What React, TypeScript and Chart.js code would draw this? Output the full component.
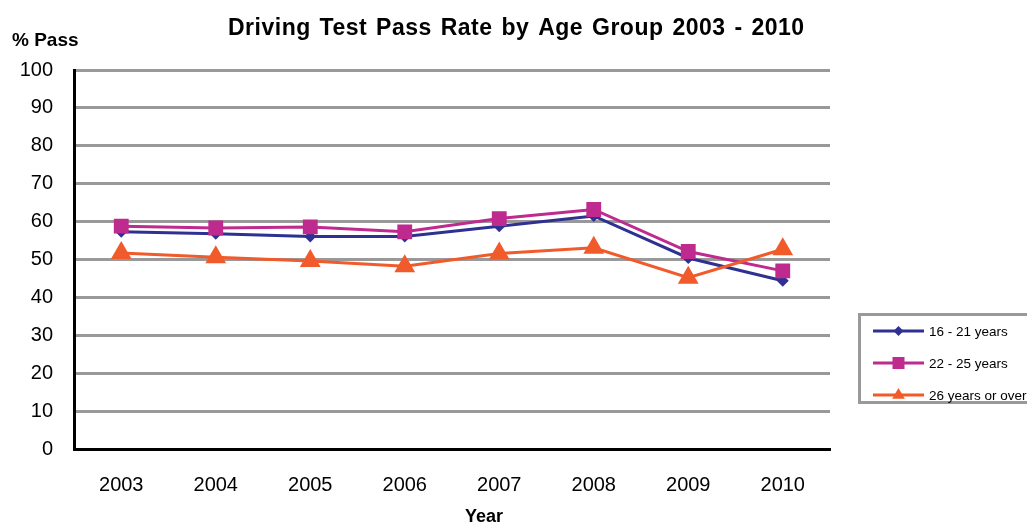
import React, { useEffect, useRef } from 'react';
import { Chart, registerables } from 'chart.js';

Chart.register(...registerables);

const years = ['2003', '2004', '2005', '2006', '2007', '2008', '2009', '2010'];
const age16to21 = [57.3, 56.8, 56.1, 56.1, 58.8, 61.5, 50.4, 44.4];
const age22to25 = [58.8, 58.3, 58.6, 57.3, 60.8, 63.2, 52.1, 47.0];
const age26plus = [51.7, 50.6, 49.6, 48.2, 51.6, 53.1, 45.2, 52.7];
const seriesNames = ['16 - 21 years', '22 - 25 years', '26 years or over'];
const seriesColors = ['#2E3192', '#BE2A8E', '#F15A2B'];

const chartTitle = 'Driving Test Pass Rate by Age Group 2003 - 2010';
const yAxisTitle = '% Pass';
const xAxisTitle = 'Year';

const FONT = '"Liberation Sans", Arial, sans-serif';

function drawMarker(ctx: CanvasRenderingContext2D, style: string, x: number, y: number, r: number, color: string) {
  ctx.save();
  ctx.fillStyle = color;
  ctx.beginPath();
  if (style === 'rectRot') {
    ctx.moveTo(x - r, y);
    ctx.lineTo(x, y - r);
    ctx.lineTo(x + r, y);
    ctx.lineTo(x, y + r);
  } else if (style === 'rect') {
    ctx.rect(x - r, y - r, 2 * r, 2 * r);
  } else {
    ctx.moveTo(x, y - r);
    ctx.lineTo(x + r * 0.9, y + r * 0.55);
    ctx.lineTo(x - r * 0.9, y + r * 0.55);
  }
  ctx.closePath();
  ctx.fill();
  ctx.restore();
}

const extrasPlugin = {
  id: 'extras',
  afterDraw(chart: any) {
    const ctx: any = chart.ctx;
    ctx.save();
    ctx.fillStyle = '#000';
    ctx.textBaseline = 'alphabetic';
    ctx.font = `bold 23px ${FONT}`;
    ctx.textAlign = 'left';
    ctx.letterSpacing = '0.5px';
    ctx.wordSpacing = '2px';
    ctx.fillText(chartTitle, 228, 35);
    ctx.letterSpacing = '0px';
    ctx.wordSpacing = '0px';
    ctx.font = `bold 19px ${FONT}`;
    ctx.fillText(yAxisTitle, 12, 46);
    ctx.font = `bold 18px ${FONT}`;
    ctx.textAlign = 'center';
    ctx.fillText(xAxisTitle, 484, 522);

    // legend
    ctx.strokeStyle = '#999999';
    ctx.lineWidth = 3;
    ctx.strokeRect(859.5, 314.5, 200, 88);
    const rowsY = [331, 363, 395];
    const markerSizes = [5, 6, 7];
    chart.data.datasets.forEach((ds: any, i: number) => {
      const y = rowsY[i];
      ctx.strokeStyle = ds.borderColor;
      ctx.lineWidth = 3;
      ctx.beginPath();
      ctx.moveTo(873, y);
      ctx.lineTo(924, y);
      ctx.stroke();
      drawMarker(ctx, ds.pointStyle, 898.5, y, markerSizes[i], ds.borderColor);
      ctx.fillStyle = '#000';
      ctx.font = `13.5px ${FONT}`;
      ctx.textAlign = 'left';
      ctx.textBaseline = 'middle';
      ctx.fillText(ds.label, 929, y + 1);
    });
    ctx.restore();
  },
};

export default function App() {
  const canvasRef = useRef<HTMLCanvasElement | null>(null);

  useEffect(() => {
    const canvas = canvasRef.current;
    if (!canvas) return;
    const chart = new Chart(canvas, {
      type: 'line',
      data: {
        labels: years,
        datasets: [
          {
            label: seriesNames[0],
            data: age16to21,
            borderColor: seriesColors[0],
            backgroundColor: seriesColors[0],
            borderWidth: 3,
            pointStyle: 'rectRot',
            pointRadius: 6,
            pointBorderWidth: 0,
            tension: 0,
            order: 3,
          },
          {
            label: seriesNames[1],
            data: age22to25,
            borderColor: seriesColors[1],
            backgroundColor: seriesColors[1],
            borderWidth: 3,
            pointStyle: 'rect',
            pointRadius: 10.5,
            pointBorderWidth: 0,
            tension: 0,
            order: 2,
          },
          {
            label: seriesNames[2],
            data: age26plus,
            borderColor: seriesColors[2],
            backgroundColor: seriesColors[2],
            borderWidth: 3,
            pointStyle: 'triangle',
            pointRadius: 12,
            pointBorderWidth: 0,
            tension: 0,
            order: 1,
          },
        ],
      },
      options: {
        responsive: false,
        animation: false,
        devicePixelRatio: 1,
        layout: { padding: { left: 0, top: 70, right: 197, bottom: 0 } },
        plugins: {
          legend: { display: false },
          tooltip: { enabled: false },
          title: { display: false },
        },
        scales: {
          x: {
            offset: true,
            grid: { display: false, drawTicks: false },
            border: { display: true, color: '#000', width: 3 },
            ticks: { color: '#000', font: { family: FONT, size: 20 }, padding: 24, maxRotation: 0 },
            afterFit: (scale: any) => {
              scale.height = 76;
            },
          },
          y: {
            min: 0,
            max: 100,
            ticks: { stepSize: 10, color: '#000', font: { family: FONT, size: 20 }, padding: 21 },
            grid: { color: '#999999', lineWidth: 3, drawTicks: false },
            border: { display: true, color: '#000', width: 3 },
            afterFit: (scale: any) => {
              scale.width = 74;
            },
          },
        },
      },
      plugins: [extrasPlugin],
    });
    return () => chart.destroy();
  }, []);

  return (
    <div style={{ position: 'fixed', left: 0, top: 0, width: 1027, height: 525, background: '#fff' }}>
      <canvas ref={canvasRef} width={1027} height={525} />
    </div>
  );
}
